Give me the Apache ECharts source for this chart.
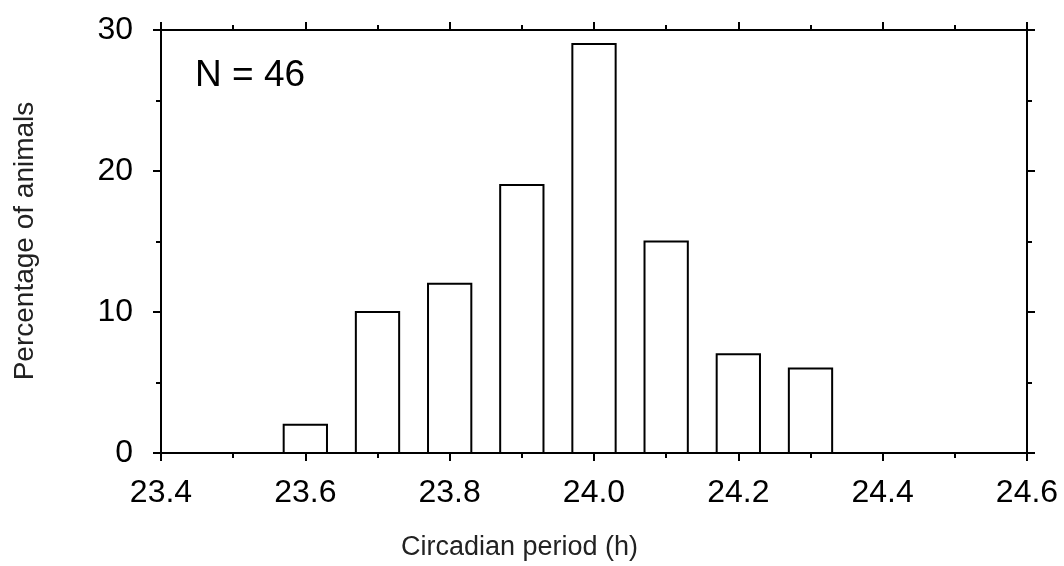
<!DOCTYPE html>
<html>
<head>
<meta charset="utf-8">
<script src="https://cdn.jsdelivr.net/npm/echarts@6/dist/echarts.min.js"></script>
<style>
  html, body { margin: 0; padding: 0; background: #fff; }
  #chart { width: 1064px; height: 566px; }
</style>
</head>
<body>
<div id="chart"></div>
<script>
"use strict";
/*global echarts*/

// histogram bins (bin centre, h) and percentage of animals
var periods = [23.6, 23.7, 23.8, 23.9, 24.0, 24.1, 24.2, 24.3];
var percents = [2, 10, 12, 19, 29, 15, 7, 6];
var binWidth = 0.06;

var fontFam = "'Liberation Sans', Arial, sans-serif";

function initChart() {
  var myChart = echarts.init(document.getElementById("chart"));

  var xBase = {
    type: "value",
    min: 23.4,
    max: 24.6,
    interval: 0.2,
    splitLine: { show: false },
    axisLine: { show: true, onZero: false, lineStyle: { color: "#000", width: 2 } },
    axisTick: { show: true, inside: false, length: 8, lineStyle: { color: "#000", width: 2 } },
    minorTick: { show: true, splitNumber: 2, length: 5, lineStyle: { color: "#000", width: 2 } },
  };
  var yBase = {
    type: "value",
    min: 0,
    max: 30,
    interval: 10,
    splitLine: { show: false },
    axisLine: { show: true, onZero: false, lineStyle: { color: "#000", width: 2 } },
    axisTick: { show: true, inside: false, length: 8, lineStyle: { color: "#000", width: 2 } },
    minorTick: { show: true, splitNumber: 2, length: 5, lineStyle: { color: "#000", width: 2 } },
  };

  var option = {
    animation: false,
    backgroundColor: "#fff",
    grid: { left: 161, right: 37, top: 30, bottom: 113 },
    xAxis: [
      Object.assign({}, xBase, {
        position: "bottom",
        axisLabel: {
          margin: 24,
          color: "#000",
          fontSize: 32,
          fontFamily: fontFam,
          formatter: function (v) { return v.toFixed(1); },
        },
      }),
      Object.assign({}, xBase, { position: "top", axisLabel: { show: false } }),
    ],
    yAxis: [
      Object.assign({}, yBase, {
        position: "left",
        axisLabel: { margin: 28, color: "#000", fontSize: 32, fontFamily: fontFam },
      }),
      Object.assign({}, yBase, { position: "right", axisLabel: { show: false } }),
    ],
    graphic: [
      {
        type: "text",
        left: 195,
        top: 57,
        style: { text: "N = 46", fontSize: 37, fontFamily: fontFam, fill: "#000" },
      },
      {
        type: "text",
        left: 401,
        top: 534,
        style: { text: "Circadian period (h)", fontSize: 27, fontFamily: fontFam, fill: "#222" },
      },
      {
        type: "text",
        x: 25,
        y: 241,
        rotation: Math.PI / 2,
        style: {
          text: "Percentage of animals",
          fontSize: 28,
          fontFamily: fontFam,
          fill: "#222",
          align: "center",
          verticalAlign: "middle",
        },
      },
    ],
    series: [
      {
        type: "custom",
        xAxisIndex: 0,
        yAxisIndex: 0,
        data: periods.map(function (p, i) { return [p, percents[i]]; }),
        renderItem: function (params, api) {
          var x = api.value(0);
          var y = api.value(1);
          var p0 = api.coord([x - binWidth / 2, y]);
          var p1 = api.coord([x + binWidth / 2, 0]);
          return {
            type: "rect",
            shape: { x: p0[0], y: p0[1], width: p1[0] - p0[0], height: p1[1] - p0[1] },
            style: { fill: "#fff", stroke: "#000", lineWidth: 2 },
          };
        },
      },
    ],
  };
  myChart.setOption(option);
  return myChart;
}

initChart();
</script>
</body>
</html>
